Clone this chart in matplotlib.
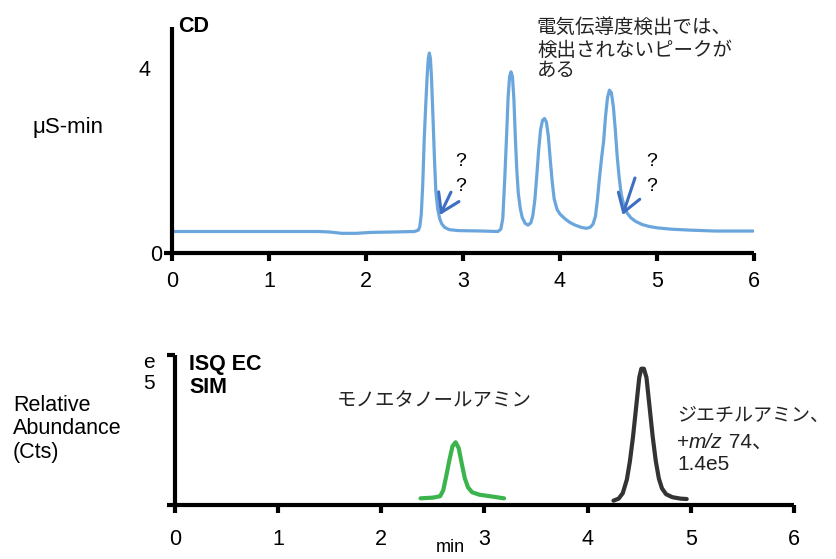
import matplotlib
matplotlib.use("Agg")
import matplotlib.pyplot as plt
from matplotlib.transforms import ScaledTranslation

plt.rcParams['font.family'] = ['Liberation Sans', 'Noto Sans CJK JP', 'DejaVu Sans']

# CD trace (min, uS-min)
cd_t = [0.02, 0.5, 1.0, 1.5, 1.62, 1.75, 1.9, 2.05, 2.3, 2.50, 2.54, 2.555, 2.57, 2.585,
        2.60, 2.615, 2.63, 2.642, 2.653, 2.664, 2.675, 2.69, 2.705, 2.72, 2.74, 2.76, 2.78,
        2.81, 2.86, 2.95, 3.2,
        3.36, 3.39, 3.41, 3.43, 3.45, 3.465, 3.48, 3.495, 3.51, 3.525, 3.54, 3.555, 3.57,
        3.59, 3.61, 3.64, 3.67, 3.70, 3.72, 3.74, 3.76, 3.78, 3.80, 3.82, 3.84, 3.86,
        3.88, 3.90, 3.92, 3.94, 3.97, 4.0, 4.05, 4.10, 4.155, 4.22, 4.27, 4.31, 4.34,
        4.365, 4.385, 4.405, 4.43, 4.45, 4.47, 4.49, 4.51, 4.53, 4.55, 4.57, 4.59, 4.61,
        4.63, 4.66, 4.69, 4.73, 4.78, 4.85, 4.92, 5.0, 5.15, 5.34, 5.6, 5.99]
cd_y = [0.47, 0.47, 0.47, 0.47, 0.46, 0.43, 0.43, 0.45, 0.46, 0.47, 0.50, 0.58, 0.85, 1.5,
        2.47, 3.2, 3.85, 4.25, 4.37, 4.25, 3.85, 3.0, 2.1, 1.35, 0.95, 0.75, 0.64,
        0.56, 0.51, 0.49, 0.48,
        0.47, 0.52, 0.75, 1.6, 2.6, 3.4, 3.85, 3.96, 3.85, 3.35, 2.5, 1.8, 1.31,
        0.98, 0.78, 0.65, 0.61, 0.66, 0.82, 1.15, 1.67, 2.25, 2.7, 2.9, 2.94, 2.86,
        2.55, 2.03, 1.55, 1.18, 0.95, 0.85, 0.75, 0.67, 0.61, 0.56, 0.54, 0.56, 0.63,
        0.8, 1.15, 1.6, 2.1, 2.45, 3.0, 3.4, 3.56, 3.5, 3.2, 2.7, 2.1, 1.65,
        1.3, 1.02, 0.88, 0.77, 0.69, 0.62, 0.58, 0.55, 0.52, 0.50, 0.48, 0.48]

# SIM traces (min, counts e5)
mea_t = [2.38, 2.50, 2.57, 2.60, 2.63, 2.66, 2.69, 2.72, 2.75, 2.78, 2.81, 2.84, 2.88,
         2.95, 3.05, 3.19]
mea_y = [0.068, 0.075, 0.09, 0.15, 0.30, 0.46, 0.60, 0.64, 0.58, 0.42, 0.27, 0.18, 0.13,
         0.105, 0.09, 0.068]
dea_t = [4.25, 4.30, 4.34, 4.38, 4.41, 4.44, 4.47, 4.50, 4.52, 4.545, 4.57, 4.60, 4.63,
         4.66, 4.69, 4.72, 4.76, 4.82, 4.90, 4.96]
dea_y = [0.044, 0.065, 0.12, 0.26, 0.45, 0.7, 1.0, 1.3, 1.39, 1.39, 1.3, 1.0, 0.7,
         0.45, 0.27, 0.17, 0.11, 0.08, 0.065, 0.061]

x_ticks = [0, 1, 2, 3, 4, 5, 6]

W, H = 836, 559
fig = plt.figure(figsize=(W / 100, H / 100), dpi=100)


def px_axes(x0, x1, y0, y1):
    return fig.add_axes([x0 / W, 1 - y1 / H, (x1 - x0) / W, (y1 - y0) / H])


def style(ax, shift):
    for s in ['top', 'right']:
        ax.spines[s].set_visible(False)
    for s in ['left', 'bottom']:
        ax.spines[s].set_linewidth(3)
        ax.spines[s].set_capstyle('butt')
    ax.set_xlim(0, 6)
    ax.set_xticks(x_ticks)
    ax.tick_params(axis='x', direction='out', length=6, width=3, labelsize=15.5)
    ax.tick_params(axis='y', direction='out', length=6, width=3)
    off = ScaledTranslation(shift / 100, 0, fig.dpi_scale_trans)
    for lab in ax.get_xticklabels():
        lab.set_transform(lab.get_transform() + off)


line = dict(solid_capstyle='round', solid_joinstyle='round')

# top panel: CD
ax1 = px_axes(172, 754, 27, 253)
ax1.plot(cd_t, cd_y, color='#6aa6dc', lw=2.3, **line)
ax1.set_ylim(0, 4.94)
style(ax1, 6)
ax1.tick_params(axis='x', pad=7)
ax1.set_yticks([0])
ax1.set_yticklabels(['0'], fontsize=15.5)
ax1.tick_params(axis='y', pad=1)
ax1.text(-0.22, 4, '4', fontsize=15.5, ha='right', va='center')
ax1.text(0.06, 4.94, 'CD', fontsize=15.5, fontweight='bold', ha='left', va='center')

arrow = dict(arrowstyle='->,head_length=0.7,head_width=0.45', color='#3d6ec2', lw=2.2,
             mutation_scale=18, shrinkA=0, shrinkB=0)
ax1.annotate('', xy=(2.763, 0.83), xytext=(2.876, 1.33), arrowprops=arrow)
ax1.annotate('', xy=(4.646, 0.83), xytext=(4.773, 1.64), arrowprops=arrow)
for qx in [2.98, 4.95]:
    ax1.text(qx, 2.0, '?', fontsize=14, ha='center', va='center')
    ax1.text(qx, 1.45, '?', fontsize=14, ha='center', va='center')

fig.text(537 / W, 1 - 49 / H, '電気伝導度検出では、\n検出されないピークが\nある',
         fontsize=14, ha='left', va='center', linespacing=1.3, color='#222222')
fig.text(32 / W, 1 - 127 / H, 'μS-min', fontsize=16, ha='left', va='center')

# bottom panel: SIM
ax2 = px_axes(175, 794, 355, 505)
ax2.plot(mea_t, mea_y, color='#3bb44e', lw=3, **line)
ax2.plot(dea_t, dea_y, color='#333333', lw=3, **line)
ax2.set_ylim(0, 1.53)
style(ax2, 3)
ax2.tick_params(axis='x', pad=11)
ax2.set_yticks([0, 1.53])
ax2.set_yticklabels([])

fig.text(155 / W, 1 - 373 / H, 'e\n5', fontsize=15, ha='right', va='center', linespacing=1.1)
fig.text(189 / W, 1 - 376 / H, 'ISQ EC\nSIM', fontsize=15.5, fontweight='bold',
         ha='left', va='center', linespacing=1.15)
fig.text(13 / W, 1 - 429 / H, 'Relative\nAbundance\n(Cts)', fontsize=15.5,
         ha='left', va='center', linespacing=1.15)
fig.text(337 / W, 1 - 402 / H, 'モノエタノールアミン', fontsize=14, ha='left', va='center',
         color='#222222')
fig.text(677 / W, 1 - 416 / H, 'ジエチルアミン、', fontsize=13.7, ha='left', va='center',
         color='#222222')
fig.text(677 / W, 1 - 465 / H, '1.4e5', fontsize=15, ha='left', va='center', color='#222222')
fig.text(450 / W, 1 - 548 / H, 'min', fontsize=13, ha='center', va='center')

# "+m/z 74、" with italic m/z, pieces placed one after another
fig.canvas.draw()
r = fig.canvas.get_renderer()
x = 677
for s, st in [('+', 'normal'), ('m/z', 'italic'), (' 74、', 'normal')]:
    t = fig.text(x / W, 1 - 442 / H, s, fontsize=15, style=st, ha='left', va='center',
                 color='#222222')
    x = t.get_window_extent(r).x1

fig.savefig('out.png', dpi=100)
